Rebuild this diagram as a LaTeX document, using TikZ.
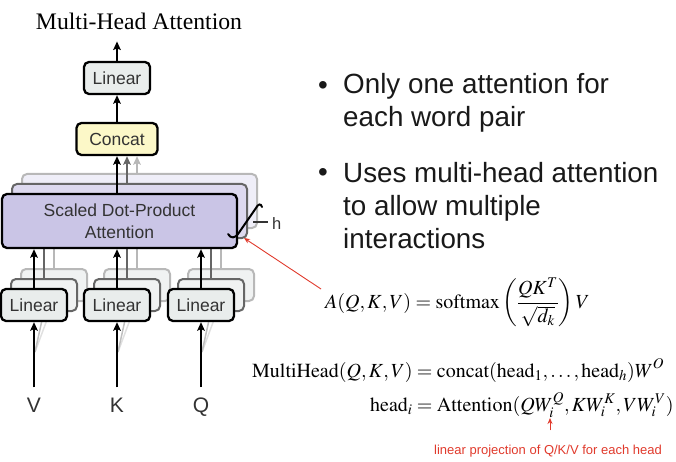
\documentclass[tikz,border=0pt]{standalone}
\usepackage{amsmath}
\usepackage{mathptmx}
\usepackage{fontspec}
\setmainfont{Liberation Serif}
\setsansfont{Liberation Sans}
\usetikzlibrary{arrows.meta}

\definecolor{lingray}{HTML}{E9EDEC}
\definecolor{concatyel}{HTML}{FCF8C8}
\definecolor{sdpalav}{HTML}{CAC5E6}
\definecolor{boxtext}{HTML}{333333}
\definecolor{annred}{HTML}{E03A2C}

\newcommand\blockfont{\sffamily\fontsize{17.5}{22}\selectfont}

\tikzset{
  Block/.style = {draw=black, line width=2.3pt, rounded corners=5pt,
                  inner sep=0pt, text=boxtext, font=\blockfont},
  LinBlock/.style = {Block, fill=lingray, minimum width=66pt, minimum height=32pt},
  Ghost/.style = {line width=2pt, rounded corners=5pt, inner sep=0pt},
  Flow/.style = {line width=2.3pt, -{Stealth[length=8.5pt,width=7.5pt,inset=1.5pt]}},
  RedFlow/.style = {draw=annred, line width=0.9pt, -{Stealth[length=6pt,width=5pt]}},
  Title/.style = {anchor=base, inner sep=11pt, font=\fontsize{23.7}{28}\selectfont},
  Input/.style = {anchor=base, inner sep=10pt, text=boxtext,
                  font=\sffamily\fontsize{21}{25}\selectfont},
  Point/.style = {anchor=base west, inner sep=0pt, align=left, text=black!90,
                  font=\sffamily\fontsize{27.8}{33}\selectfont},
  Formula/.style = {anchor=base west, inner sep=0pt, font=\fontsize{20}{24}\selectfont},
  Note/.style = {anchor=base, inner xsep=0pt, inner ysep=14pt, text=annred,
                 font=\sffamily\fontsize{13}{16}\selectfont}
}

\begin{document}
\begin{tikzpicture}[x=1pt,y=-1pt]
  \useasboundingbox (0,0) rectangle (676,462);

  \node[Title] (title) at (139,30) {Multi-Head Attention};
  \node[LinBlock] (lintop) at (117,78) {Linear};
  \node[Block, fill=concatyel, minimum width=81pt, minimum height=32pt] (concat) at (117,139) {Concat};
  \draw[Flow] (concat) -- (lintop);
  \draw[Flow] (lintop) -- (lintop |- title.south);

  % the other heads, stacked behind the front one
  \foreach \k/\d/\edge/\shd/\fil in {2/20/black!28/black!12/sdpalav!30, 1/10/black!60/black!25/sdpalav!65}{
    \node[Ghost, draw=\edge, fill=\fil, minimum width=235pt, minimum height=54pt] (sdpa\k) at ({119.5+\d},{221-\d}) {};
    \draw[Flow, draw=\edge] ([xshift=\d pt]concat.south |- sdpa\k.north) -- ([xshift=\d pt]concat.south);
    \foreach \x [count=\j] in {34,117,201}{
      \draw[draw=\shd, line width=1.5pt] ({\x+1},352) -- ({\x+\d},{321-\d});
      \node[Ghost, draw=\edge, fill=lingray!70, minimum width=66pt, minimum height=32pt] (lin\k\j) at ({\x+\d},{305-\d}) {};
      \draw[Flow, draw=\edge] (lin\k\j.north) -- (lin\k\j.north |- sdpa\k.south);
    }
  }

  \node[Block, fill=sdpalav, minimum width=235pt, minimum height=54pt, align=center] (sdpa) at (119.5,221) {Scaled Dot-Product\\Attention};
  \draw[Flow] (concat.south |- sdpa.north) -- (concat);

  \foreach \x/\name/\txt in {34/v/V, 117/k/K, 201/q/Q}{
    \node[LinBlock] (lin\name) at (\x,305) {Linear};
    \node[Input] (\name) at (\x,412) {\txt};
    \draw[Flow] (\name) -- (lin\name);
    \draw[Flow] (lin\name) -- (lin\name |- sdpa.south);
  }

  % brace for the h heads
  \draw[line width=2pt, line cap=round] (228,234) .. controls (231,239) and (235,238) .. (238,234)
    -- (256,208) .. controls (258,204) and (261,203) .. (262,207);
  \node[anchor=base west, inner sep=0pt, text=boxtext, font=\sffamily\fontsize{16.5}{20}\selectfont] (h) at (272,229) {h};
  \coordinate (hb) at (253,222);
  \draw[line width=1.3pt, draw=boxtext] (hb) -- ([xshift=-4pt]hb -| h.west);

  % bullets
  \node[Point] (b1) at (318,95) {•};
  \node[Point] (p1) at (343,127) {Only one attention for\\each word pair};
  \node[Point] (b2) at (318,182) {•};
  \node[Point] (p2) at (343,248) {Uses multi-head attention\\to allow multiple\\interactions};

  % formulas
  \node[Formula] (attn) at (325,308)
    {$\displaystyle A(Q,K,V) = \operatorname{softmax}\left(\frac{QK^T}{\sqrt{d_k}}\right)V$};
  \node[Formula] (mhead) at (252,377)
    {$\begin{aligned}[t]
       \mathrm{MultiHead}(Q,K,V) &= \mathrm{concat}(\mathrm{head}_1,\ldots,\mathrm{head}_h)W^O\\[4pt]
       \mathrm{head}_i &= \mathrm{Attention}(QW_i^Q, KW_i^K, VW_i^V)
     \end{aligned}$};

  \coordinate (attntail) at (321,289);
  \coordinate (headtip) at (244,238);
  \draw[RedFlow] (attntail) -- (headtip);

  \node[Note] (proj) at (548,454) {linear projection of Q/K/V for each head};
  \coordinate (wqi) at (550,418);
  \draw[RedFlow] (proj.north -| wqi) -- (wqi);
\end{tikzpicture}
\end{document}
